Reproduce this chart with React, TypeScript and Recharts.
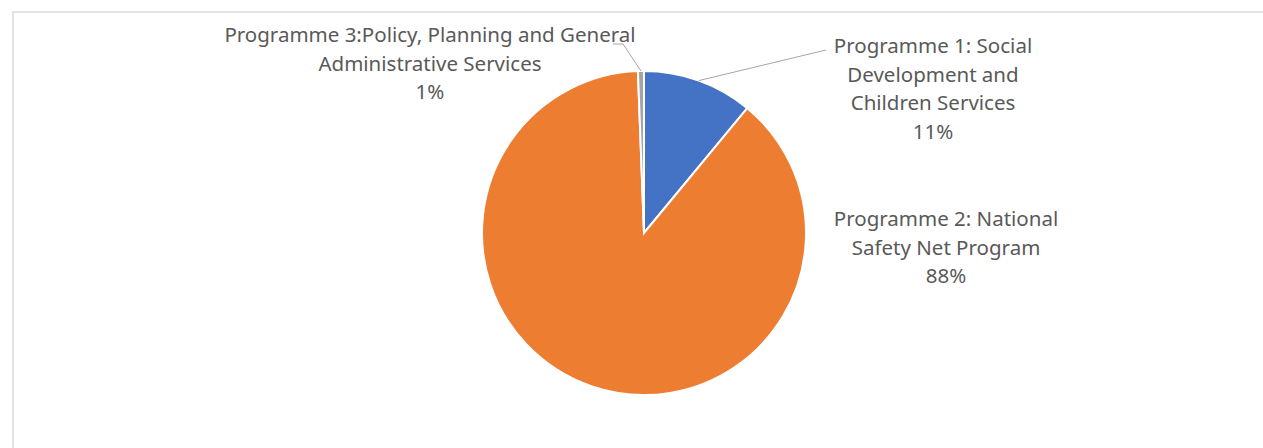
import React from 'react';
import { PieChart, Pie, Cell } from 'recharts';

// Budget share by programme, drawn clockwise from 12 o'clock

const programmes = [
  'Programme 1: Social Development and Children Services',
  'Programme 2: National Safety Net Program',
  'Programme 3:Policy, Planning and General Administrative Services',
];
const shares = [11.0, 88.4, 0.6];
const labelLines = [
  ['Programme 1: Social', 'Development and', 'Children Services'],
  ['Programme 2: National', 'Safety Net Program'],
  ['Programme 3:Policy, Planning and General', 'Administrative Services'],
];

const colors = ['#4472C4', '#ED7D31', '#A5A5A5'];

// where each label sits, relative to the pie centre
const labelPlacement = [
  { dx: 289, dy: -188, leader: [[182, -183]] },
  { dx: 302, dy: -15, leader: [] as number[][] },
  { dx: -214, dy: -199, leader: [[-21, -189], [-31, -189]] },
];

const data = programmes.map((name, i) => ({ name, value: shares[i] }));

const RAD = Math.PI / 180;
const FONT = '"Noto Sans", sans-serif';

function renderLabel(props: any) {
  const { cx, cy, midAngle, outerRadius, index, percent } = props;
  const place = labelPlacement[index];
  const lines = [...labelLines[index], `${Math.round(percent * 100)}%`];
  const sx = cx + outerRadius * Math.cos(-midAngle * RAD);
  const sy = cy + outerRadius * Math.sin(-midAngle * RAD);
  const pts = [[sx, sy], ...place.leader.map(([x, y]) => [cx + x, cy + y])];
  return (
    <g key={`lbl-${index}`}>
      {pts.length > 1 && (
        <polyline
          points={pts.map((p) => p.join(',')).join(' ')}
          fill="none"
          stroke="#a6a6a6"
          strokeWidth={1}
        />
      )}
      {lines.map((t, j) => (
        <text
          key={j}
          x={cx + place.dx}
          y={cy + place.dy + j * 28.5}
          textAnchor="middle"
          dominantBaseline="central"
          fill="#595959"
          fontSize={20.5}
          fontFamily={FONT}
        >
          {t}
        </text>
      ))}
    </g>
  );
}

export default function App() {
  return (
    <div
      style={{
        position: 'absolute',
        left: 0,
        top: 0,
        width: 1263,
        height: 448,
        background: '#fff',
        overflow: 'hidden',
      }}
    >
      <div
        style={{
          position: 'absolute',
          left: 12,
          top: 11,
          width: 1400,
          height: 600,
          borderTop: '2px solid #e3e3e3',
          borderLeft: '2px solid #e3e3e3',
        }}
      />
      <div style={{ position: 'absolute', left: 0, top: 0 }}>
        <PieChart width={1263} height={448} margin={{ top: 0, right: 0, bottom: 0, left: 0 }}>
          <Pie
            data={data}
            dataKey="value"
            nameKey="name"
            cx={644}
            cy={233}
            outerRadius={162}
            startAngle={90}
            endAngle={-270}
            stroke="#fff"
            strokeWidth={2}
            label={renderLabel}
            labelLine={false}
            isAnimationActive={false}
          >
            {data.map((d, i) => (
              <Cell key={d.name} fill={colors[i]} />
            ))}
          </Pie>
        </PieChart>
      </div>
    </div>
  );
}
